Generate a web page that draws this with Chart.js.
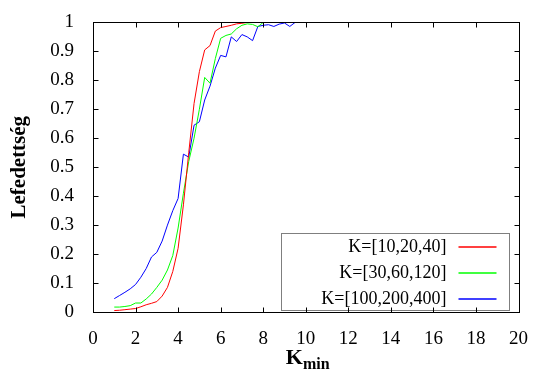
<!DOCTYPE html>
<html>
<head>
<meta charset="utf-8">
<script src="https://cdn.jsdelivr.net/npm/chart.js@4/dist/chart.umd.min.js"></script>
<style>
  html, body { margin: 0; padding: 0; background: #fff; }
  #wrap { width: 536px; height: 372px; }
</style>
</head>
<body>
<div id="wrap"><canvas id="c" width="536" height="372"></canvas></div>
<script>
// K_min values (x)
const kmin = [1,1.25,1.5,1.75,2,2.25,2.5,2.75,3,3.25,3.5,3.75,4,4.25,4.5,4.75,5,5.25,5.5,5.75,6,6.25,6.5,6.75,7,7.25,7.5,7.75,8,8.25,8.5,8.75,9,9.25,9.5,9.75,10];
// coverage per K set
const red   = [0.005,0.006,0.008,0.010,0.012,0.018,0.025,0.030,0.036,0.055,0.085,0.140,0.220,0.370,0.550,0.720,0.830,0.905,0.920,0.970,0.982,0.986,0.990,0.995,0.997,1,1,1,1,1,1,1,1,1,1,1,1];
const green = [0.017,0.017,0.019,0.022,0.031,0.031,0.045,0.062,0.085,0.110,0.145,0.195,0.290,0.410,0.520,0.600,0.700,0.810,0.790,0.875,0.945,0.955,0.960,0.978,0.990,0.995,0.993,0.985,1,1,1,1,1,1,1,1,1];
const blue  = [0.046,0.057,0.068,0.080,0.095,0.120,0.150,0.190,0.206,0.245,0.300,0.350,0.392,0.545,0.535,0.645,0.657,0.732,0.780,0.842,0.886,0.881,0.950,0.934,0.958,0.950,0.937,0.986,0.990,0.992,0.986,0.994,0.998,0.986,1,1,1];
const seriesLabels = ['K=[10,20,40]','K=[30,60,120]','K=[100,200,400]'];
const seriesColors = ['#ff0000','#00ff00','#0000ff'];
const xTicks = [0,2,4,6,8,10,12,14,16,18,20];
const yTicks = [0,0.1,0.2,0.3,0.4,0.5,0.6,0.7,0.8,0.9,1];

const SERIF = '"Liberation Serif", "DejaVu Serif", serif';
Chart.defaults.font.family = SERIF;
Chart.defaults.color = '#000';

const pts = ys => kmin.map((x, i) => ({ x, y: ys[i] }));
const ds = (i, ys) => ({ label: seriesLabels[i], data: pts(ys), borderColor: seriesColors[i], borderWidth: 1, pointRadius: 0, tension: 0, fill: false });

// frame + inward ticks on all four sides, custom legend, x title with subscript
const framePlugin = {
  id: 'frame',
  afterDatasetsDraw(chart) {
    const { ctx, chartArea: a, scales: { x, y } } = chart;
    ctx.save();
    // legend box
    const bx = a.right - 238, by = a.top + 211, bw = 228, bh = 77;
    ctx.fillStyle = '#fff';
    ctx.fillRect(bx, by, bw, bh);
    ctx.strokeStyle = '#7f7f7f';
    ctx.lineWidth = 1;
    ctx.strokeRect(Math.round(bx) + 0.5, Math.round(by) + 0.5, bw, bh);
    ctx.font = '18px ' + SERIF;
    ctx.textAlign = 'right';
    ctx.textBaseline = 'middle';
    seriesLabels.forEach((lab, i) => {
      const ry = by + 14 + i * 25.8;
      ctx.fillStyle = '#000';
      ctx.fillText(lab, bx + bw - 62, ry);
      ctx.strokeStyle = seriesColors[i];
      ctx.lineWidth = 1.3;
      ctx.beginPath();
      ctx.moveTo(bx + bw - 50, Math.round(ry));
      ctx.lineTo(bx + bw - 12, Math.round(ry));
      ctx.stroke();
    });
    // frame
    ctx.strokeStyle = '#000';
    ctx.lineWidth = 1;
    const L = Math.round(a.left) + 0.5, R = Math.round(a.right) + 0.5;
    const T = Math.round(a.top) + 0.5, B = Math.round(a.bottom) + 0.5;
    ctx.strokeRect(L, T, R - L, B - T);
    ctx.beginPath();
    x.ticks.forEach(t => {
      const px = Math.round(x.getPixelForValue(t.value)) + 0.5;
      ctx.moveTo(px, B); ctx.lineTo(px, B - 5);
      ctx.moveTo(px, T); ctx.lineTo(px, T + 5);
    });
    y.ticks.forEach(t => {
      const py = Math.round(y.getPixelForValue(t.value)) + 0.5;
      ctx.moveTo(L, py); ctx.lineTo(L + 5, py);
      ctx.moveTo(R, py); ctx.lineTo(R - 5, py);
    });
    ctx.stroke();
    ctx.restore();
  },
  afterDraw(chart) {
    const { ctx, chartArea: a } = chart;
    ctx.save();
    ctx.fillStyle = '#000';
    ctx.textBaseline = 'alphabetic';
    ctx.textAlign = 'left';
    const f1 = 'bold 22px ' + SERIF, f2 = 'bold 16px ' + SERIF;
    ctx.font = f1; const w1 = ctx.measureText('K').width;
    ctx.font = f2; const w2 = ctx.measureText('min').width;
    const x0 = (a.left + a.right) / 2 - (w1 + w2) / 2 + 2;
    const base = 364;
    ctx.font = f1; ctx.fillText('K', x0, base);
    ctx.font = f2; ctx.fillText('min', x0 + w1, base + 5);
    ctx.restore();
  }
};

new Chart(document.getElementById('c'), {
  type: 'line',
  data: { datasets: [ds(0, red), ds(1, green), ds(2, blue)] },
  options: {
    responsive: false,
    animation: false,
    layout: { padding: { top: 19, right: 13, left: 0, bottom: 0 } },
    plugins: { legend: { display: false }, tooltip: { enabled: false } },
    scales: {
      x: {
        type: 'linear', min: 0, max: 20,
        afterBuildTicks: s => { s.ticks = xTicks.map(v => ({ value: v })); },
        afterFit: s => { s.height = 60; },
        grid: { display: false }, border: { display: false },
        ticks: { font: { size: 19 }, padding: 8, maxRotation: 0, autoSkip: false, callback: v => String(v) }
      },
      y: {
        min: 0, max: 1,
        afterBuildTicks: s => { s.ticks = yTicks.map(v => ({ value: v })); },
        afterFit: s => { s.width = 93; },
        grid: { display: false }, border: { display: false },
        ticks: { font: { size: 19 }, padding: 11, autoSkip: false, callback: v => String(v) },
        title: { display: true, text: 'Lefedettség', font: { size: 21, weight: 'bold' }, padding: { top: 7, bottom: 0 } }
      }
    }
  },
  plugins: [framePlugin]
});
</script>
</body>
</html>
